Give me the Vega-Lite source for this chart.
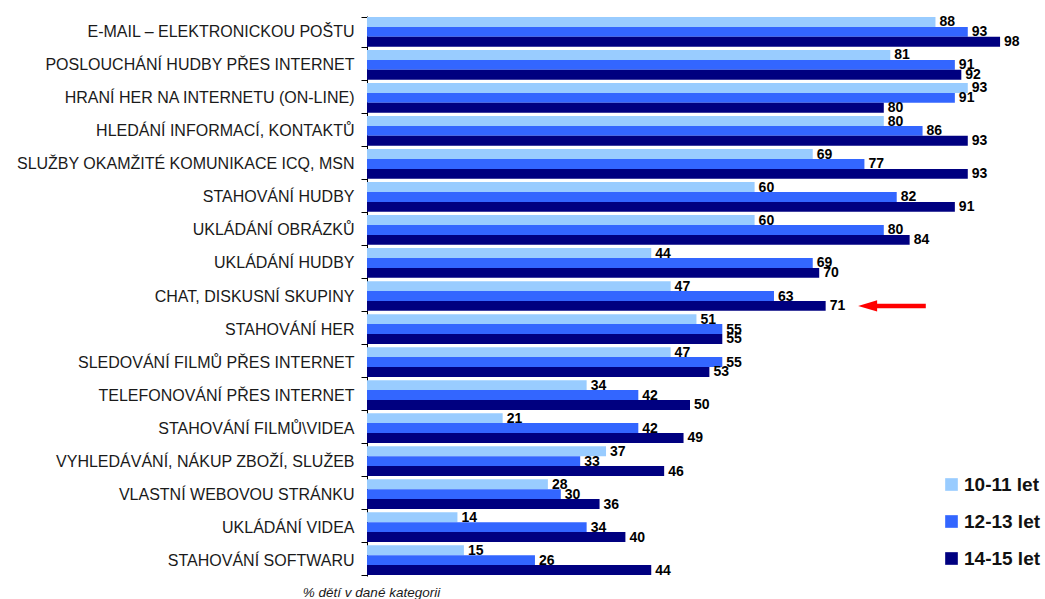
{
  "$schema": "https://vega.github.io/schema/vega-lite/v6.json",
  "autosize": {"type": "none"},
  "padding": {"left": 367, "top": 16, "right": 32, "bottom": 23},
  "width": 646,
  "height": 560,
  "background": "white",
  "config": {"view": {"stroke": null}, "font": "Liberation Sans"},
  "datasets": {
    "main": [
      {"cat": "E-MAIL – ELEKTRONICKOU POŠTU", "grp": "10-11 let", "val": 88},
      {"cat": "E-MAIL – ELEKTRONICKOU POŠTU", "grp": "12-13 let", "val": 93},
      {"cat": "E-MAIL – ELEKTRONICKOU POŠTU", "grp": "14-15 let", "val": 98},
      {"cat": "POSLOUCHÁNÍ HUDBY PŘES INTERNET", "grp": "10-11 let", "val": 81},
      {"cat": "POSLOUCHÁNÍ HUDBY PŘES INTERNET", "grp": "12-13 let", "val": 91},
      {"cat": "POSLOUCHÁNÍ HUDBY PŘES INTERNET", "grp": "14-15 let", "val": 92},
      {"cat": "HRANÍ HER NA INTERNETU (ON-LINE)", "grp": "10-11 let", "val": 93},
      {"cat": "HRANÍ HER NA INTERNETU (ON-LINE)", "grp": "12-13 let", "val": 91},
      {"cat": "HRANÍ HER NA INTERNETU (ON-LINE)", "grp": "14-15 let", "val": 80},
      {"cat": "HLEDÁNÍ INFORMACÍ, KONTAKTŮ", "grp": "10-11 let", "val": 80},
      {"cat": "HLEDÁNÍ INFORMACÍ, KONTAKTŮ", "grp": "12-13 let", "val": 86},
      {"cat": "HLEDÁNÍ INFORMACÍ, KONTAKTŮ", "grp": "14-15 let", "val": 93},
      {"cat": "SLUŽBY OKAMŽITÉ KOMUNIKACE ICQ, MSN ", "grp": "10-11 let", "val": 69},
      {"cat": "SLUŽBY OKAMŽITÉ KOMUNIKACE ICQ, MSN ", "grp": "12-13 let", "val": 77},
      {"cat": "SLUŽBY OKAMŽITÉ KOMUNIKACE ICQ, MSN ", "grp": "14-15 let", "val": 93},
      {"cat": "STAHOVÁNÍ HUDBY", "grp": "10-11 let", "val": 60},
      {"cat": "STAHOVÁNÍ HUDBY", "grp": "12-13 let", "val": 82},
      {"cat": "STAHOVÁNÍ HUDBY", "grp": "14-15 let", "val": 91},
      {"cat": "UKLÁDÁNÍ OBRÁZKŮ", "grp": "10-11 let", "val": 60},
      {"cat": "UKLÁDÁNÍ OBRÁZKŮ", "grp": "12-13 let", "val": 80},
      {"cat": "UKLÁDÁNÍ OBRÁZKŮ", "grp": "14-15 let", "val": 84},
      {"cat": "UKLÁDÁNÍ HUDBY", "grp": "10-11 let", "val": 44},
      {"cat": "UKLÁDÁNÍ HUDBY", "grp": "12-13 let", "val": 69},
      {"cat": "UKLÁDÁNÍ HUDBY", "grp": "14-15 let", "val": 70},
      {"cat": "CHAT, DISKUSNÍ SKUPINY", "grp": "10-11 let", "val": 47},
      {"cat": "CHAT, DISKUSNÍ SKUPINY", "grp": "12-13 let", "val": 63},
      {"cat": "CHAT, DISKUSNÍ SKUPINY", "grp": "14-15 let", "val": 71},
      {"cat": "STAHOVÁNÍ HER", "grp": "10-11 let", "val": 51},
      {"cat": "STAHOVÁNÍ HER", "grp": "12-13 let", "val": 55},
      {"cat": "STAHOVÁNÍ HER", "grp": "14-15 let", "val": 55},
      {"cat": "SLEDOVÁNÍ FILMŮ PŘES INTERNET", "grp": "10-11 let", "val": 47},
      {"cat": "SLEDOVÁNÍ FILMŮ PŘES INTERNET", "grp": "12-13 let", "val": 55},
      {"cat": "SLEDOVÁNÍ FILMŮ PŘES INTERNET", "grp": "14-15 let", "val": 53},
      {"cat": "TELEFONOVÁNÍ PŘES INTERNET", "grp": "10-11 let", "val": 34},
      {"cat": "TELEFONOVÁNÍ PŘES INTERNET", "grp": "12-13 let", "val": 42},
      {"cat": "TELEFONOVÁNÍ PŘES INTERNET", "grp": "14-15 let", "val": 50},
      {"cat": "STAHOVÁNÍ FILMŮ\\VIDEA", "grp": "10-11 let", "val": 21},
      {"cat": "STAHOVÁNÍ FILMŮ\\VIDEA", "grp": "12-13 let", "val": 42},
      {"cat": "STAHOVÁNÍ FILMŮ\\VIDEA", "grp": "14-15 let", "val": 49},
      {"cat": "VYHLEDÁVÁNÍ, NÁKUP ZBOŽÍ, SLUŽEB", "grp": "10-11 let", "val": 37},
      {"cat": "VYHLEDÁVÁNÍ, NÁKUP ZBOŽÍ, SLUŽEB", "grp": "12-13 let", "val": 33},
      {"cat": "VYHLEDÁVÁNÍ, NÁKUP ZBOŽÍ, SLUŽEB", "grp": "14-15 let", "val": 46},
      {"cat": "VLASTNÍ WEBOVOU STRÁNKU", "grp": "10-11 let", "val": 28},
      {"cat": "VLASTNÍ WEBOVOU STRÁNKU", "grp": "12-13 let", "val": 30},
      {"cat": "VLASTNÍ WEBOVOU STRÁNKU", "grp": "14-15 let", "val": 36},
      {"cat": "UKLÁDÁNÍ VIDEA", "grp": "10-11 let", "val": 14},
      {"cat": "UKLÁDÁNÍ VIDEA", "grp": "12-13 let", "val": 34},
      {"cat": "UKLÁDÁNÍ VIDEA", "grp": "14-15 let", "val": 40},
      {"cat": "STAHOVÁNÍ SOFTWARU", "grp": "10-11 let", "val": 15},
      {"cat": "STAHOVÁNÍ SOFTWARU", "grp": "12-13 let", "val": 26},
      {"cat": "STAHOVÁNÍ SOFTWARU", "grp": "14-15 let", "val": 44}
    ],
    "arrow": [
      {"cat": "CHAT, DISKUSNÍ SKUPINY", "grp": "14-15 let", "head": 77.5, "x1": 78.5, "x2": 86.5}
    ]
  },
  "encoding": {
    "y": {
      "field": "cat",
      "type": "nominal",
      "sort": null,
      "scale": {"paddingInner": 0.1, "paddingOuter": 0.03},
      "axis": {
        "title": null,
        "tickBand": "extent",
        "tickSize": 6,
        "tickColor": "#000000",
        "domainColor": "#000000",
        "labelFontSize": 16,
        "labelColor": "#1a1a1a",
        "labelPadding": 7,
        "labelLimit": 400,
        "labelFont": "Liberation Sans"
      }
    },
    "yOffset": {"field": "grp", "type": "nominal"}
  },
  "layer": [
    {
      "data": {"name": "main"},
      "mark": {"type": "bar"},
      "encoding": {
        "x": {
          "field": "val",
          "type": "quantitative",
          "scale": {"domain": [0, 100], "nice": false},
          "axis": {
            "domain": false,
            "ticks": false,
            "labels": false,
            "grid": false,
            "title": "% dětí v dané kategorii",
            "titleFont": "Liberation Sans",
            "titleFontStyle": "italic",
            "titleFontWeight": "normal",
            "titleFontSize": 13.5,
            "titleColor": "#1a1a1a",
            "titleX": 4,
            "titleY": 16,
            "titleAlign": "center",
            "titleBaseline": "middle"
          }
        },
        "color": {
          "field": "grp",
          "type": "nominal",
          "scale": {"domain": ["10-11 let", "12-13 let", "14-15 let"], "range": ["#99CCFF", "#3366FF", "#000080"]},
          "legend": {
            "orient": "none",
            "legendX": 575,
            "legendY": 459,
            "title": null,
            "padding": 0,
            "symbolType": "square",
            "symbolSize": 160,
            "symbolStrokeWidth": 0,
            "labelFont": "Liberation Sans",
            "labelFontSize": 19,
            "labelFontWeight": "bold",
            "labelColor": "#111111",
            "labelOffset": 3,
            "rowPadding": 17
          }
        }
      }
    },
    {
      "data": {"name": "main"},
      "mark": {"type": "text", "align": "left", "baseline": "middle", "dx": 4, "dy": 0.5, "font": "Liberation Sans Narrow, Liberation Sans", "fontWeight": "bold", "fontSize": 14, "color": "#000000"},
      "encoding": {
        "x": {"field": "val", "type": "quantitative"},
        "text": {"field": "val", "type": "quantitative"}
      }
    },
    {
      "data": {"name": "arrow"},
      "mark": {"type": "rule", "color": "#FF0000", "strokeWidth": 4.5},
      "encoding": {
        "x": {"field": "x1", "type": "quantitative"},
        "x2": {"field": "x2"}
      }
    },
    {
      "data": {"name": "arrow"},
      "mark": {"type": "point", "shape": "M1,-0.6L-1,0L1,0.6Z", "size": 361, "filled": true, "color": "#FF0000", "opacity": 1, "strokeWidth": 0},
      "encoding": {
        "x": {"field": "head", "type": "quantitative"}
      }
    }
  ]
}
